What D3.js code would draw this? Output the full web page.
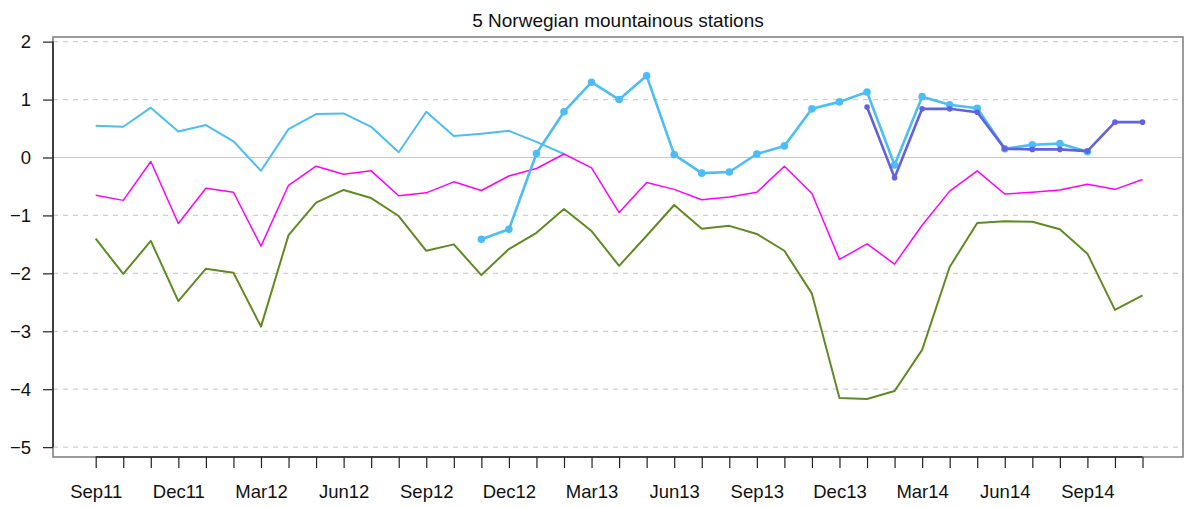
<!DOCTYPE html>
<html>
<head>
<meta charset="utf-8">
<script src="https://cdn.jsdelivr.net/npm/d3@7"></script>
<style>
body { margin: 0; background: #fff; }
text { font-family: "Liberation Sans", Arial, sans-serif; fill: #111; }
</style>
</head>
<body>
<script>
var months = ['Sep11','Oct11','Nov11','Dec11','Jan12','Feb12','Mar12','Apr12','May12','Jun12','Jul12','Aug12',
	'Sep12','Oct12','Nov12','Dec12','Jan13','Feb13','Mar13','Apr13','May13','Jun13','Jul13','Aug13',
	'Sep13','Oct13','Nov13','Dec13','Jan14','Feb14','Mar14','Apr14','May14','Jun14','Jul14','Aug14',
	'Sep14','Oct14','Nov14'];

var tickLabels = ['Sep11','Dec11','Mar12','Jun12','Sep12','Dec12','Mar13','Jun13','Sep13','Dec13','Mar14','Jun14','Sep14'];
var yTicks = [-5, -4, -3, -2, -1, 0, 1, 2];

var blueThin = [0.55, 0.53, 0.86, 0.45, 0.56, 0.28, -0.23, 0.49, 0.75, 0.76, 0.53, 0.09,
	0.79, 0.37, 0.41, 0.46, 0.27, 0.06, null, null, null, null, null, null,
	null, null, null, null, null, null, null, null, null, null, null, null,
	null, null, null];

var magenta = [-0.65, -0.74, -0.07, -1.14, -0.53, -0.60, -1.53, -0.48, -0.15, -0.29, -0.23, -0.66,
	-0.61, -0.42, -0.57, -0.32, -0.19, 0.06, -0.18, -0.95, -0.43, -0.55, -0.73, -0.68,
	-0.60, -0.15, -0.62, -1.76, -1.49, -1.84, -1.17, -0.58, -0.23, -0.63, -0.60, -0.56,
	-0.46, -0.55, -0.38];

var olive = [-1.40, -2.01, -1.44, -2.48, -1.92, -1.99, -2.92, -1.34, -0.78, -0.56, -0.70, -1.01,
	-1.61, -1.50, -2.03, -1.58, -1.30, -0.89, -1.27, -1.87, -1.35, -0.82, -1.23, -1.18,
	-1.32, -1.61, -2.35, -4.15, -4.17, -4.03, -3.32, -1.89, -1.13, -1.10, -1.11, -1.24,
	-1.66, -2.63, -2.38];

var blueDots = [null, null, null, null, null, null, null, null, null, null, null, null,
	null, null, -1.41, -1.24, 0.07, 0.79, 1.30, 1.00, 1.41, 0.05, -0.27, -0.25,
	0.06, 0.20, 0.84, 0.96, 1.13, -0.13, 1.05, 0.91, 0.85, 0.15, 0.22, 0.24,
	0.10, null, null];

var slate = [null, null, null, null, null, null, null, null, null, null, null, null,
	null, null, null, null, null, null, null, null, null, null, null, null,
	null, null, null, null, 0.87, -0.35, 0.84, 0.84, 0.78, 0.15, 0.14, 0.14,
	0.11, 0.61, 0.61];

var width = 1186,
	height = 507;
var plot = {left: 53, right: 1183, top: 37, bottom: 457};

var svg = d3.select('body')
	.append('svg')
	.attr('width', width)
	.attr('height', height)

var xScale = d3.scaleLinear()
	.domain([-1.55, months.length + 0.47])
	.range([plot.left, plot.right])

var yScale = d3.scaleLinear()
	.domain([-5.17, 2.08])
	.range([plot.bottom, plot.top])

// grid
svg.append('g')
	.selectAll('line')
	.data(yTicks)
	.enter()
	.append('line')
	.attr('x1', plot.left)
	.attr('x2', plot.right)
	.attr('y1', d => yScale(d))
	.attr('y2', d => yScale(d))
	.attr('stroke', d => d === 0 ? '#c8c8c8' : '#d0d0d0')
	.attr('stroke-width', 1.2)
	.attr('stroke-dasharray', d => d === 0 ? null : '5,5')

// box
svg.append('rect')
	.attr('x', plot.left)
	.attr('y', plot.top)
	.attr('width', plot.right - plot.left)
	.attr('height', plot.bottom - plot.top)
	.attr('fill', 'none')
	.attr('stroke', '#7a7a7a')
	.attr('stroke-width', 1.5)

var xAxis = d3.axisBottom(xScale)
	.tickValues(d3.range(months.length))
	.tickFormat(i => tickLabels.indexOf(months[i]) >= 0 ? months[i] : '')
	.tickSize(11)
	.tickPadding(17)
	.tickSizeOuter(0);

var yAxis = d3.axisLeft(yScale)
	.tickValues(yTicks)
	.tickSize(10)
	.tickPadding(12)
	.tickSizeOuter(0);

var gx = svg.append('g').attr('transform', `translate(0, ${plot.bottom})`).call(xAxis);
var gy = svg.append('g').attr('transform', `translate(${plot.left}, 0)`).call(yAxis);

gx.select('.domain').remove();
gy.select('.domain').remove();
gx.append('line')
	.attr('x1', xScale(0)).attr('x2', xScale(months.length - 1))
	.attr('stroke', '#222').attr('stroke-width', 1.5)
gy.append('line')
	.attr('y1', yScale(yTicks[0])).attr('y2', yScale(yTicks[yTicks.length - 1]))
	.attr('stroke', '#222').attr('stroke-width', 1.5)

svg.selectAll('.tick line').attr('stroke', '#222').attr('stroke-width', 1.2);
svg.selectAll('.tick text')
	.style('font-family', '"Liberation Sans", Arial, sans-serif')
	.style('font-size', '18.5px')
	.attr('fill', '#111');

svg.append('text')
	.attr('x', (plot.left + plot.right) / 2)
	.attr('y', 27)
	.attr('text-anchor', 'middle')
	.style('font-size', '19px')
	.text('5 Norwegian mountainous stations')

var line = d3.line()
	.defined(d => d != null)
	.x((d, i) => xScale(i))
	.y(d => yScale(d));

var series = [
	{values: blueThin, color: '#4cbdf6', width: 2, dot: 0},
	{values: magenta, color: '#ff00ff', width: 1.5, dot: 0},
	{values: olive, color: '#5f8b22', width: 2, dot: 0},
	{values: blueDots, color: '#4cbdf6', width: 2.6, dot: 3.8},
	{values: slate, color: '#6262e0', width: 2.6, dot: 2.8}
];

series.forEach(s => {
	svg.append('path')
		.datum(s.values)
		.attr('fill', 'none')
		.attr('stroke', s.color)
		.attr('stroke-width', s.width)
		.attr('stroke-linejoin', 'round')
		.attr('d', line)

	if (s.dot) {
		svg.append('g')
			.selectAll('circle')
			.data(s.values.map((v, i) => ({i: i, v: v})).filter(d => d.v != null))
			.enter()
			.append('circle')
			.attr('cx', d => xScale(d.i))
			.attr('cy', d => yScale(d.v))
			.attr('r', s.dot)
			.attr('fill', s.color)
	}
})
</script>
</body>
</html>
